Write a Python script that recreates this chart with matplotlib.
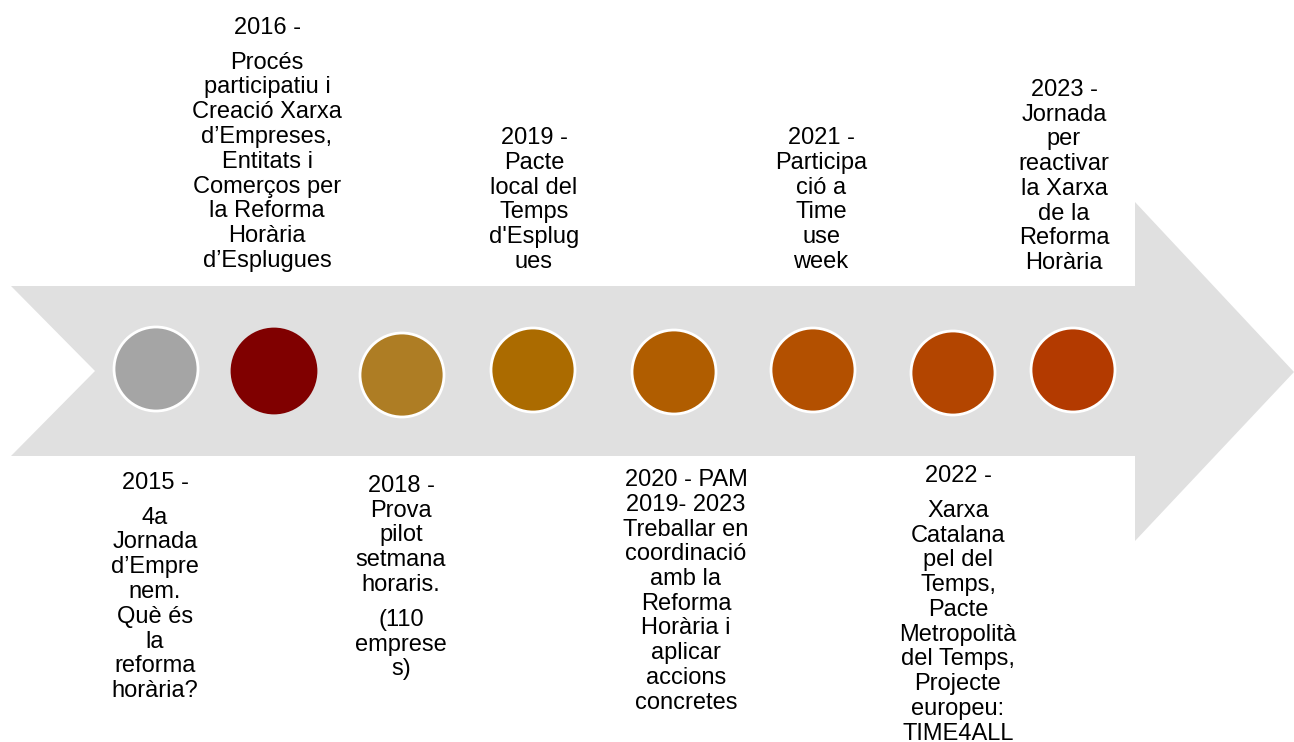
import matplotlib
matplotlib.use("Agg")
import matplotlib.pyplot as plt
from matplotlib.patches import Circle, Polygon

# events in timeline order; each is a list of paragraphs, each a list of lines
events = [
    [["2015 -"], ["4a", "Jornada", "d\u2019Empre", "nem.", "Què és", "la", "reforma", "horària?"]],
    [["2016 -"], ["Procés", "participatiu i", "Creació Xarxa", "d\u2019Empreses,", "Entitats i",
                  "Comerços per", "la Reforma", "Horària", "d\u2019Esplugues"]],
    [["2018 -", "Prova", "pilot", "setmana", "horaris."], ["(110", "emprese", "s)"]],
    [["2019 -", "Pacte", "local del", "Temps", "d'Esplug", "ues"]],
    [["2020 - PAM", "2019- 2023", "Treballar en", "coordinació", "amb la", "Reforma",
      "Horària i", "aplicar", "accions", "concretes"]],
    [["2021 -", "Participa", "ció a", "Time", "use", "week"]],
    [["2022 -"], ["Xarxa", "Catalana", "pel del", "Temps,", "Pacte", "Metropolità",
                  "del Temps,", "Projecte", "europeu:", "TIME4ALL"]],
    [["2023 -", "Jornada", "per", "reactivar", "la Xarxa", "de la", "Reforma", "Horària"]],
]
circle_colors = ["#a5a5a5", "#800000", "#ae7d24", "#ab6b00",
                 "#b05d00", "#b35000", "#b34500", "#b33a00"]

# layout (pixel units)
circle_x = [156, 274, 402, 533, 674, 813, 953, 1073]
circle_y = [369, 371, 375, 370, 372, 370, 373, 370]
text_x = [155, 267, 401, 534, 686, 821, 958, 1064]
text_start = [483, 28, 486, 138, 480, 138, 476, 90]
pitch = 24.75
para_gap = 10

fig = plt.figure(figsize=(12.94, 7.42), dpi=100)
ax = fig.add_axes([0, 0, 1, 1])
ax.set_xlim(0, 1294)
ax.set_ylim(742, 0)
ax.axis("off")

arrow = [(11, 286), (1135, 286), (1135, 202), (1294, 372), (1135, 541),
         (1135, 456), (11, 456), (95, 371)]
ax.add_patch(Polygon(arrow, closed=True, facecolor="#e0e0e0", edgecolor="none"))

for i, col in enumerate(circle_colors):
    ec = col if i == 1 else "white"
    ax.add_patch(Circle((circle_x[i], circle_y[i]), 42, facecolor=col,
                        edgecolor=ec, linewidth=2))

for i, paras in enumerate(events):
    y = text_start[i]
    for p, lines in enumerate(paras):
        if p > 0:
            y += para_gap
        for line in lines:
            ax.text(text_x[i], y, line, ha="center", va="center",
                    fontsize=17, family="Liberation Sans", color="black")
            y += pitch

fig.savefig("out.png", dpi=100)
